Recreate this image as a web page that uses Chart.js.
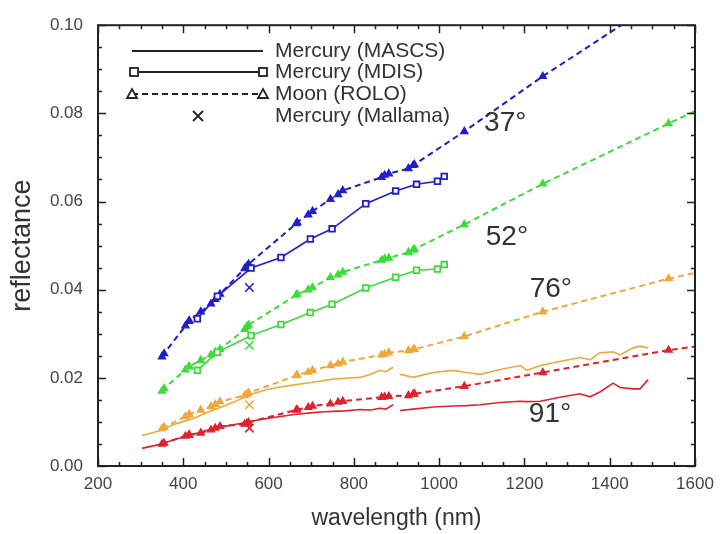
<!DOCTYPE html>
<html>
<head>
<meta charset="utf-8">
<script src="https://cdn.jsdelivr.net/npm/chart.js@4.4.1/dist/chart.umd.min.js"></script>
<style>
  body { margin: 0; background: #fff; }
  #wrap { width: 722px; height: 534px; }
</style>
</head>
<body>
<div id="wrap"><canvas id="reflGraph" width="722" height="534"></canvas></div>
<script>
// ROLO lunar bands (nm)
const roloWl = [350, 355, 405, 413, 414, 441, 465, 475, 486, 544, 549, 553, 665, 667, 693, 703, 745, 763, 774, 865, 872, 882, 928, 939, 942, 1059, 1243, 1538, 1633]
const rolo37 = [0.0248, 0.0255, 0.0318, 0.0328, 0.0330, 0.0350, 0.0368, 0.0378, 0.0390, 0.0448, 0.0453, 0.0458, 0.0550, 0.0553, 0.0570, 0.0578, 0.0605, 0.0616, 0.0625, 0.0655, 0.0660, 0.0663, 0.0675, 0.0682, 0.0684, 0.0759, 0.0884, 0.1070, 0.1130]
const rolo52 = [0.0170, 0.0176, 0.0218, 0.0225, 0.0226, 0.0240, 0.0252, 0.0258, 0.0265, 0.0310, 0.0316, 0.0320, 0.0388, 0.0390, 0.0400, 0.0405, 0.0428, 0.0434, 0.0440, 0.0467, 0.0470, 0.0472, 0.0485, 0.0490, 0.0492, 0.0548, 0.0640, 0.0777, 0.0820]
const rolo76 = [0.0085, 0.0088, 0.0112, 0.0116, 0.0117, 0.0127, 0.0135, 0.0140, 0.0146, 0.0160, 0.0163, 0.0166, 0.0205, 0.0207, 0.0213, 0.0217, 0.0228, 0.0232, 0.0236, 0.0252, 0.0254, 0.0257, 0.0262, 0.0264, 0.0265, 0.0294, 0.0350, 0.0425, 0.0445]
const rolo91 = [0.0050, 0.0052, 0.0068, 0.0070, 0.0071, 0.0075, 0.0082, 0.0086, 0.0090, 0.0095, 0.0097, 0.0099, 0.0127, 0.0128, 0.0133, 0.0136, 0.0141, 0.0145, 0.0147, 0.0156, 0.0157, 0.0158, 0.0160, 0.0163, 0.0164, 0.0181, 0.0212, 0.0263, 0.0275]

// MDIS WAC filters (nm)
const mdisWl = [433, 480, 559, 629, 698, 749, 828, 898, 947, 996, 1012]
const mdis37 = [0.0334, 0.0385, 0.0449, 0.0473, 0.0515, 0.0538, 0.0595, 0.0624, 0.0639, 0.0646, 0.0657]
const mdis52 = [0.0217, 0.0258, 0.0296, 0.0321, 0.0348, 0.0367, 0.0404, 0.0428, 0.0444, 0.0447, 0.0457]

// MASCS spectra (null = gap between VIS and NIR detectors)
const mascsWl = [303, 345, 380, 423, 460, 503, 530, 557, 590, 620, 660, 704, 730, 751, 780, 814, 840, 861, 875, 892, 900, 908, 939, 986, 1033, 1064, 1096, 1143, 1190, 1206, 1237, 1283, 1330, 1354, 1377, 1408, 1424, 1455, 1471, 1490]
const mascs76 = [0.0069, 0.0080, 0.0095, 0.0108, 0.0123, 0.0139, 0.0150, 0.0162, 0.0172, 0.0178, 0.0184, 0.0190, 0.0194, 0.0197, 0.0199, 0.0201, 0.0208, 0.0217, 0.0214, 0.0224, null, 0.0208, 0.0201, 0.0212, 0.0217, 0.0212, 0.0208, 0.0219, 0.0228, 0.0217, 0.0228, 0.0237, 0.0246, 0.0241, 0.0257, 0.0259, 0.0252, 0.0268, 0.0272, 0.0268]
const mascs91 = [0.0040, 0.0049, 0.0060, 0.0072, 0.0082, 0.0091, 0.0096, 0.0101, 0.0107, 0.0111, 0.0117, 0.0121, 0.0123, 0.0124, 0.0125, 0.0128, 0.0127, 0.0131, 0.0129, 0.0139, null, 0.0126, 0.0129, 0.0134, 0.0136, 0.0137, 0.0139, 0.0144, 0.0147, 0.0146, 0.0147, 0.0156, 0.0164, 0.0157, 0.0168, 0.0188, 0.0178, 0.0175, 0.0175, 0.0196]

// Mallama point for each phase angle
const mallamaWl = [555, 555, 555, 555]
const mallamaVal = [0.0405, 0.0274, 0.0139, 0.0086]

const angleLabels = ['37°', '52°', '76°', '91°']
const angleAt = [[1155, 0.0777], [1159, 0.0520], [1262, 0.0400], [1260, 0.0117]]

const legendNames = ['Mercury (MASCS)', 'Mercury (MDIS)', 'Moon (ROLO)', 'Mercury (Mallama)']

const blue = '#1f1fcc'
const green = '#3ddc3d'
const orange = '#efa83c'
const red = '#e0222c'

const pts = (xs, ys) => xs.map((x, i) => ({x: x, y: ys[i]}))

function mascs(vals, color) {
    return {
        data: pts(mascsWl, vals),
        borderColor: color,
        borderWidth: 1.6,
        pointRadius: 0,
        spanGaps: false,
        tension: 0
    }
}

function mdis(vals, color) {
    return {
        data: pts(mdisWl, vals),
        borderColor: color,
        borderWidth: 1.6,
        pointStyle: 'rect',
        pointRadius: 4,
        pointBorderWidth: 1.8,
        pointBorderColor: color,
        pointBackgroundColor: '#fff',
        tension: 0
    }
}

function rolo(vals, color) {
    return {
        data: pts(roloWl, vals),
        borderColor: color,
        borderWidth: 2,
        borderDash: [6, 4],
        pointStyle: 'triangle',
        pointRadius: 4,
        pointBorderWidth: 1.4,
        pointBorderColor: color,
        pointBackgroundColor: color,
        tension: 0
    }
}

const data = {
    datasets: [
        {
            data: pts(mallamaWl, mallamaVal),
            showLine: false,
            pointStyle: 'crossRot',
            pointRadius: 6,
            pointBorderWidth: 1.6,
            pointBorderColor: [blue, green, orange, red],
            borderColor: blue
        },
        mdis(mdis37, blue),
        mdis(mdis52, green),
        mascs(mascs76, orange),
        mascs(mascs91, red),
        rolo(rolo37, blue),
        rolo(rolo52, green),
        rolo(rolo76, orange),
        rolo(rolo91, red)
    ]
}

// inward ticks on all four sides, plus the box
const frame = {
    id: 'frame',
    afterDatasetsDraw(chart) {
        const {ctx, chartArea: a, scales} = chart
        ctx.save()
        ctx.strokeStyle = '#222'
        ctx.lineWidth = 1.5
        ctx.beginPath()
        for (let nm = 200; nm <= 1600; nm += 50) {
            const px = Math.round(scales.x.getPixelForValue(nm)) + 0.5
            const len = nm % 200 === 0 ? 8 : 4
            ctx.moveTo(px, a.bottom); ctx.lineTo(px, a.bottom - len)
            ctx.moveTo(px, a.top); ctx.lineTo(px, a.top + len)
        }
        for (let i = 0; i <= 20; i++) {
            const py = Math.round(scales.y.getPixelForValue(i * 0.005)) + 0.5
            const len = i % 4 === 0 ? 8 : 4
            ctx.moveTo(a.left, py); ctx.lineTo(a.left + len, py)
            ctx.moveTo(a.right, py); ctx.lineTo(a.right - len, py)
        }
        ctx.stroke()
        ctx.lineWidth = 2
        ctx.strokeRect(a.left, a.top, a.right - a.left, a.bottom - a.top)
        ctx.restore()
    }
}

// legend in the top-left corner and phase-angle labels
const notes = {
    id: 'notes',
    afterDraw(chart) {
        const {ctx, scales} = chart
        ctx.save()
        ctx.strokeStyle = '#222'
        ctx.fillStyle = '#fff'
        ctx.lineWidth = 2
        const x0 = 132, x1 = 263
        const rows = [51, 72, 94, 116]

        ctx.beginPath(); ctx.moveTo(x0, rows[0]); ctx.lineTo(x1, rows[0]); ctx.stroke()

        ctx.beginPath(); ctx.moveTo(x0, rows[1]); ctx.lineTo(x1, rows[1]); ctx.stroke()
        ctx.lineWidth = 1.8
        ;[x0 + 2, x1].forEach(x => {
            ctx.fillRect(x - 4, rows[1] - 4, 8, 8)
            ctx.strokeRect(x - 4, rows[1] - 4, 8, 8)
        })

        ctx.setLineDash([6, 4])
        ctx.beginPath(); ctx.moveTo(x0, rows[2]); ctx.lineTo(x1, rows[2]); ctx.stroke()
        ctx.setLineDash([])
        ;[x0, x1].forEach(x => {
            ctx.beginPath()
            ctx.moveTo(x, rows[2] - 5); ctx.lineTo(x + 5, rows[2] + 4); ctx.lineTo(x - 5, rows[2] + 4)
            ctx.closePath(); ctx.fill(); ctx.stroke()
        })

        ctx.beginPath()
        ctx.moveTo(193, rows[3] - 5); ctx.lineTo(203, rows[3] + 5)
        ctx.moveTo(203, rows[3] - 5); ctx.lineTo(193, rows[3] + 5)
        ctx.stroke()

        ctx.fillStyle = '#333'
        ctx.font = '21px "Liberation Sans", Arial, sans-serif'
        ctx.textBaseline = 'middle'
        legendNames.forEach((t, i) => ctx.fillText(t, 275, rows[i]))

        ctx.font = '28px "Liberation Sans", Arial, sans-serif'
        ctx.textAlign = 'center'
        angleLabels.forEach((t, i) => {
            ctx.fillText(t, scales.x.getPixelForValue(angleAt[i][0]), scales.y.getPixelForValue(angleAt[i][1]))
        })
        ctx.restore()
    }
}

const config = {
    type: 'line',
    data,
    options: {
        responsive: false,
        animation: false,
        devicePixelRatio: 1,
        layout: { padding: { left: 0, right: 27, top: 14, bottom: 0 } },
        plugins: {
            legend: { display: false },
            tooltip: { enabled: false }
        },
        scales: {
            x: {
                type: 'linear',
                min: 200,
                max: 1600,
                afterFit(scale) { scale.height = 68 },
                grid: { display: false, drawTicks: false },
                border: { display: false },
                ticks: {
                    stepSize: 200,
                    padding: 8,
                    color: '#444',
                    font: { family: '"Liberation Sans", Arial, sans-serif', size: 17 },
                    maxRotation: 0,
                    callback: v => String(v)
                },
                title: {
                    display: true,
                    text: 'wavelength (nm)',
                    color: '#333',
                    font: { family: '"Liberation Sans", Arial, sans-serif', size: 23 },
                    padding: { top: 0, bottom: 2 }
                }
            },
            y: {
                min: 0,
                max: 0.1,
                afterFit(scale) { scale.width = 98 },
                grid: { display: false, drawTicks: false },
                border: { display: false },
                ticks: {
                    stepSize: 0.02,
                    padding: 15,
                    color: '#444',
                    font: { family: '"Liberation Sans", Arial, sans-serif', size: 17 },
                    callback: v => v.toFixed(2)
                },
                title: {
                    display: true,
                    text: 'reflectance',
                    color: '#333',
                    font: { family: '"Liberation Sans", Arial, sans-serif', size: 27 },
                    padding: { top: 6, bottom: 0 }
                }
            }
        }
    },
    plugins: [frame, notes]
}

const myChart = new Chart(document.getElementById('reflGraph'), config)
</script>
</body>
</html>
